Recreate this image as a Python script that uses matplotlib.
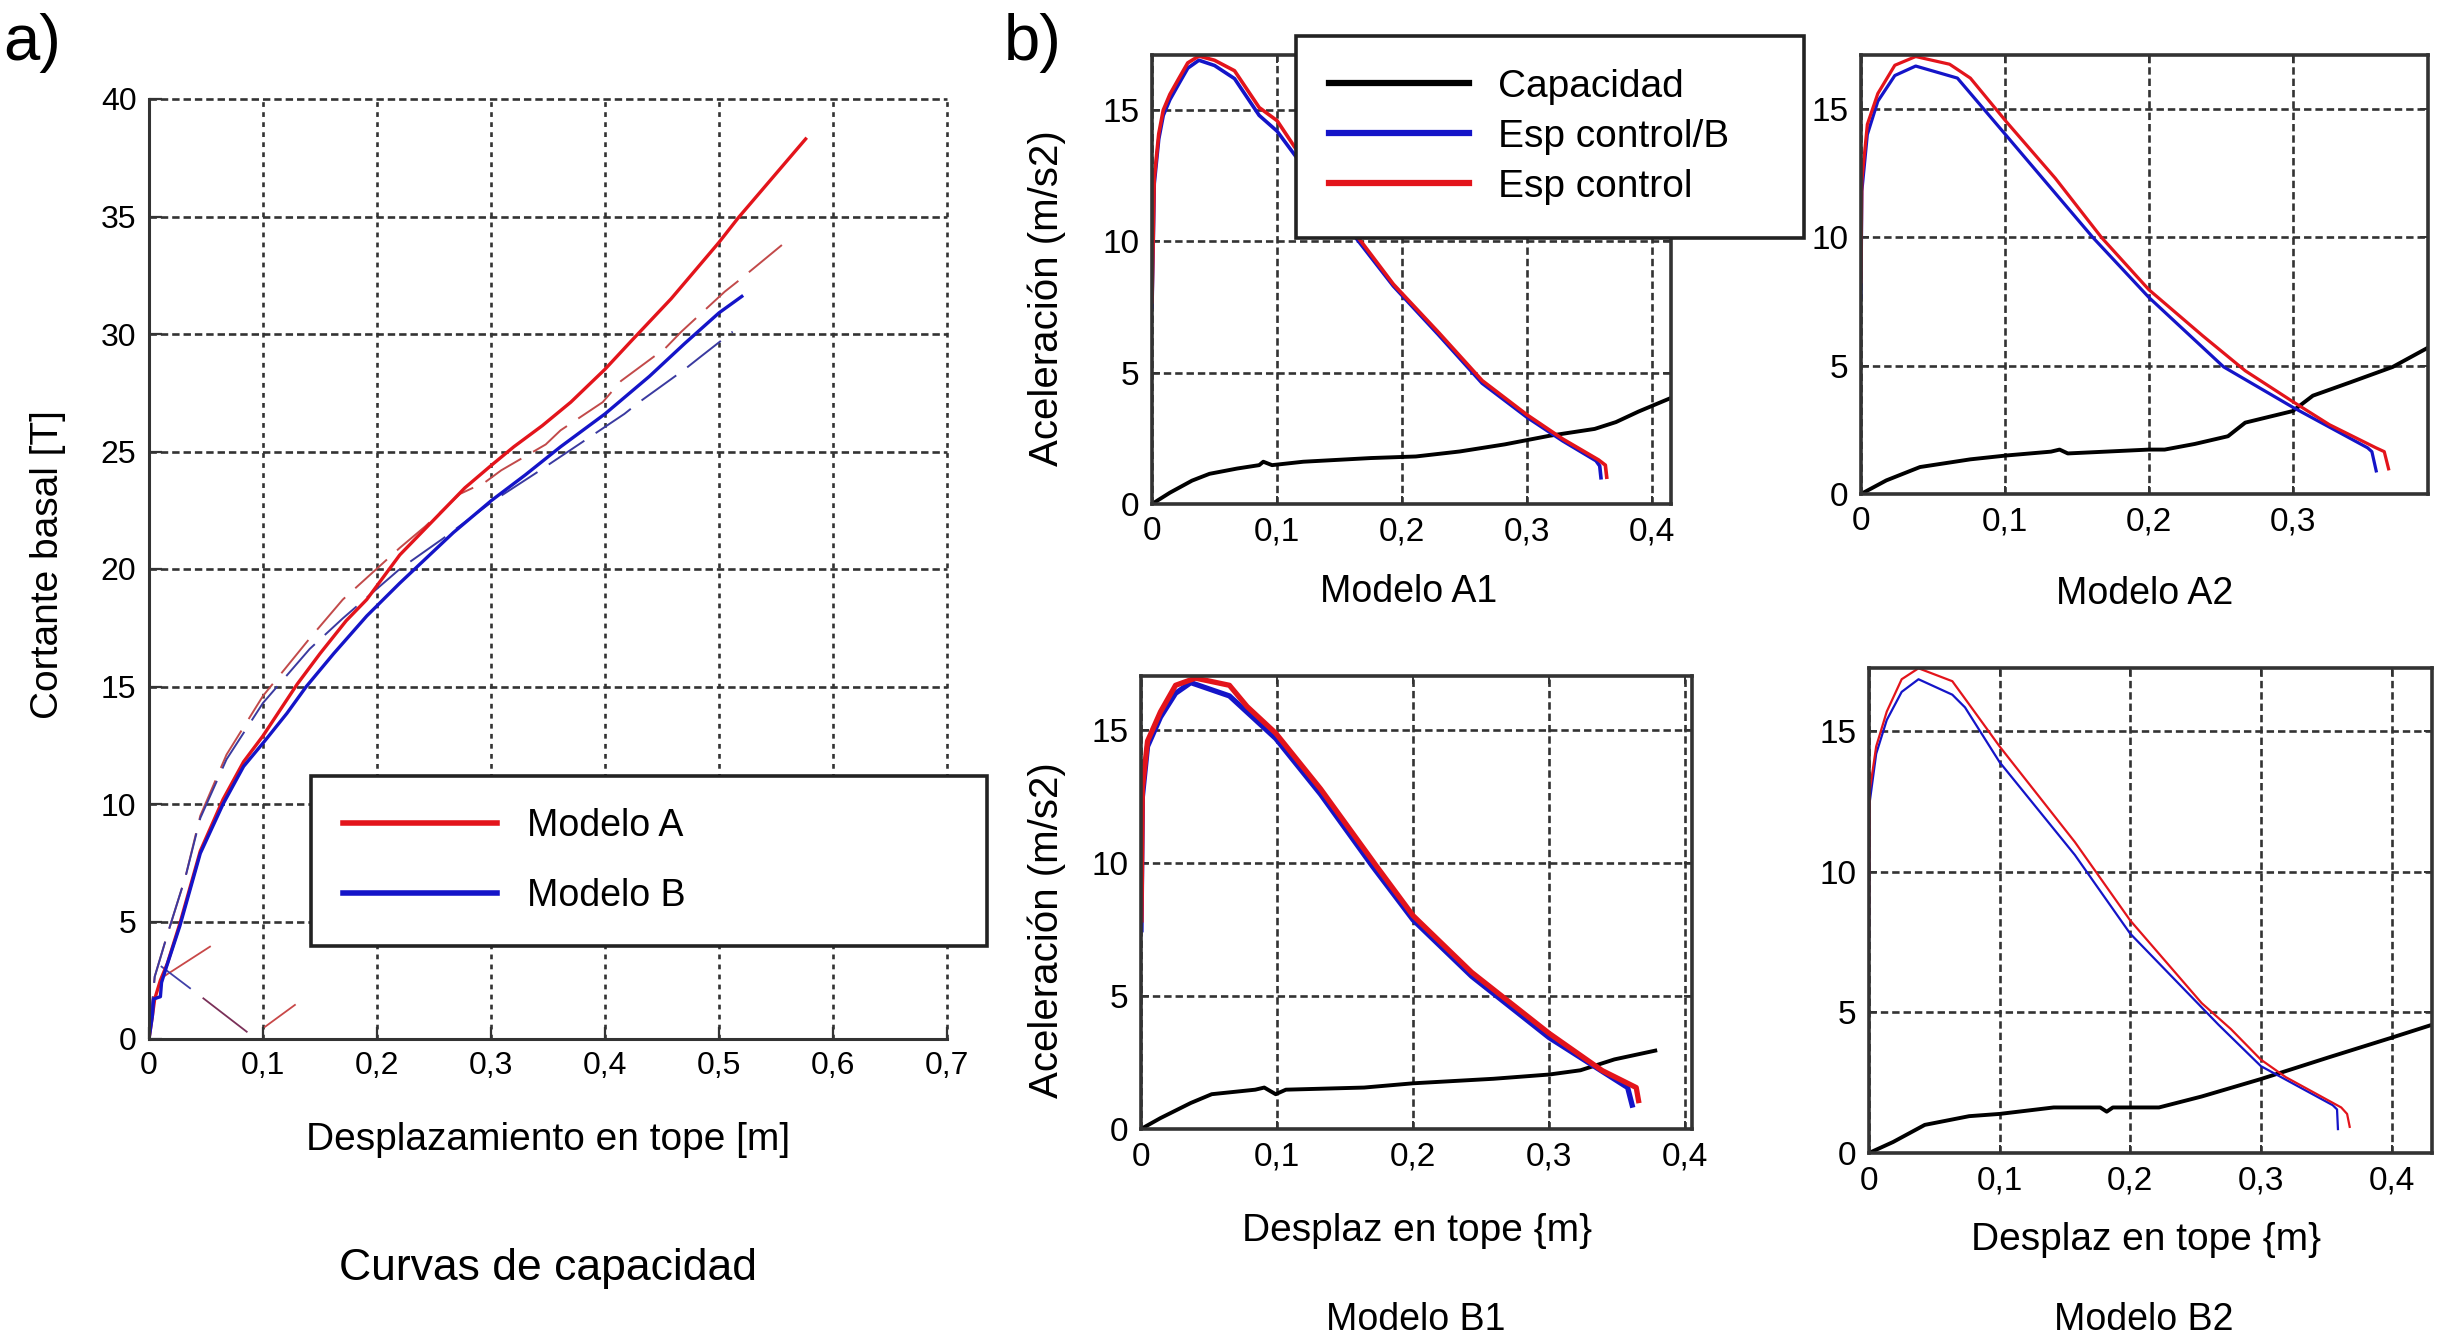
import numpy as np
import matplotlib
matplotlib.use('Agg')
import matplotlib.pyplot as plt
from matplotlib.lines import Line2D
from matplotlib.ticker import FuncFormatter, MultipleLocator

plt.rcParams['font.family'] = ['Liberation Sans', 'DejaVu Sans']
plt.rcParams['axes.linewidth'] = 2.2
plt.rcParams['axes.edgecolor'] = '#333333'

W, H = 2442, 1340

# ---------------- panel a) capacity curves ----------------
modA_x = [0, 0.003, 0.005, 0.01, 0.016, 0.027, 0.045, 0.065, 0.083, 0.1, 0.13, 0.15,
          0.173, 0.191, 0.22, 0.252, 0.277, 0.3, 0.32, 0.345, 0.37, 0.4, 0.423, 0.458,
          0.5, 0.517, 0.576]
modA_y = [0, 1.0, 1.7, 2.5, 3.2, 4.9, 8.0, 10.2, 11.8, 12.9, 15.1, 16.4,
          17.8, 18.7, 20.6, 22.2, 23.45, 24.4, 25.2, 26.1, 27.1, 28.5, 29.7, 31.5,
          33.9, 34.95, 38.3]
modB_x = [0, 0.003, 0.004, 0.01, 0.011, 0.0155, 0.027, 0.045, 0.065, 0.083, 0.101, 0.121,
          0.138, 0.162, 0.191, 0.22, 0.267, 0.3, 0.33, 0.361, 0.4, 0.439, 0.47, 0.5, 0.52]
modB_y = [0, 1.0, 1.7, 1.8, 2.4, 3.1, 4.8, 7.9, 10.0, 11.6, 12.65, 13.86,
          15.0, 16.4, 18.0, 19.4, 21.55, 22.9, 24.0, 25.2, 26.6, 28.2, 29.6, 30.9, 31.6]
# dashed companions
modA2_x = [0, 0.005, 0.0155, 0.032, 0.045, 0.068, 0.1, 0.141, 0.17, 0.22, 0.242, 0.273,
           0.295, 0.309, 0.348, 0.361, 0.398, 0.414, 0.453, 0.467, 0.505, 0.518, 0.558]
modA2_y = [0, 2.65, 4.35, 6.9, 9.5, 12.1, 14.6, 17.05, 18.7, 20.9, 21.8, 23.2,
           23.7, 24.2, 25.3, 25.9, 27.1, 28.0, 29.4, 30.1, 31.8, 32.3, 33.9]
modB2_x = [0, 0.005, 0.0155, 0.032, 0.045, 0.068, 0.1, 0.141, 0.17, 0.22, 0.258, 0.302,
           0.34, 0.377, 0.417, 0.43, 0.47, 0.483, 0.512]
modB2_y = [0, 2.65, 4.35, 6.9, 9.4, 11.9, 14.3, 16.6, 17.9, 20.0, 21.3, 22.9,
           24.1, 25.3, 26.6, 27.1, 28.5, 29.0, 30.1]
# short stray segments near the origin
stray_red1 = ([0.0126, 0.0535], [2.65, 3.93])
stray_blue = ([0.011, 0.036], [3.08, 2.16])
stray_dark = ([0.0477, 0.0857], [1.73, 0.31])
stray_red2 = ([0.1018, 0.128], [0.52, 1.45])

# ---------------- panel b) spectra ----------------
A1_cap_x = [0, 0.0143, 0.032, 0.046, 0.068, 0.0857, 0.089, 0.096, 0.121, 0.175, 0.211,
            0.246, 0.282, 0.318, 0.354, 0.371, 0.389, 0.415]
A1_cap_y = [0, 0.43, 0.89, 1.15, 1.35, 1.48, 1.61, 1.48, 1.61, 1.75, 1.81,
            2.0, 2.27, 2.6, 2.86, 3.12, 3.52, 4.04]
A1_blue_x = [0, 0.001, 0.0018, 0.0054, 0.009, 0.0143, 0.0214, 0.0286, 0.0375, 0.05, 0.066,
             0.0857, 0.1, 0.114, 0.13, 0.162, 0.193, 0.229, 0.264, 0.3, 0.3286, 0.355,
             0.358, 0.359]
A1_blue_y = [7.5, 10.0, 12.2, 13.9, 14.8, 15.4, 16.0, 16.6, 16.9, 16.7, 16.2,
             14.8, 14.2, 13.3, 12.3, 10.2, 8.3, 6.45, 4.6, 3.3, 2.4, 1.65,
             1.45, 1.0]
A1_red_x = [0, 0.001, 0.0018, 0.0054, 0.009, 0.0143, 0.0214, 0.0286, 0.0375, 0.05, 0.066,
            0.0857, 0.1, 0.114, 0.13, 0.164, 0.193, 0.229, 0.264, 0.3, 0.3286, 0.357,
            0.3625, 0.3636]
A1_red_y = [7.7, 10.2, 12.4, 14.1, 15.0, 15.6, 16.2, 16.8, 17.06, 16.9, 16.5,
            15.1, 14.6, 13.6, 12.6, 10.2, 8.37, 6.54, 4.7, 3.39, 2.47, 1.68,
            1.48, 1.02]

A2_cap_x = [0, 0.0176, 0.041, 0.076, 0.101, 0.132, 0.138, 0.1437, 0.2, 0.211, 0.232,
            0.255, 0.267, 0.3, 0.314, 0.34, 0.3695, 0.394]
A2_cap_y = [0, 0.53, 1.05, 1.35, 1.5, 1.65, 1.73, 1.58, 1.73, 1.73, 1.95,
            2.25, 2.78, 3.23, 3.83, 4.35, 4.95, 5.7]
A2_blue_x = [0, 0.0006, 0.0044, 0.0117, 0.0235, 0.038, 0.067, 0.101, 0.161, 0.2, 0.252,
             0.3, 0.352, 0.355, 0.358]
A2_blue_y = [7.66, 11.8, 14.0, 15.3, 16.3, 16.67, 16.2, 13.96, 10.0, 7.66, 4.95,
             3.38, 1.8, 1.65, 0.9]
A2_red_x = [0, 0.0006, 0.0044, 0.0117, 0.0235, 0.038, 0.0616, 0.076, 0.101, 0.135, 0.167,
            0.2, 0.2375, 0.267, 0.3, 0.3255, 0.3578, 0.3636, 0.3666]
A2_red_y = [8.26, 12.2, 14.4, 15.6, 16.7, 17.04, 16.74, 16.2, 14.5, 12.3, 10.0,
            7.96, 6.16, 4.8, 3.6, 2.7, 1.8, 1.65, 0.98]

B1_cap_x = [0, 0.0143, 0.0366, 0.052, 0.084, 0.0906, 0.099, 0.1065, 0.164, 0.2, 0.259,
            0.3, 0.323, 0.348, 0.378]
B1_cap_y = [0, 0.41, 0.98, 1.31, 1.48, 1.56, 1.31, 1.48, 1.56, 1.72, 1.89,
            2.05, 2.21, 2.62, 2.95]
B1_blue_x = [0, 0.001, 0.0048, 0.0143, 0.0254, 0.0366, 0.065, 0.099, 0.132, 0.17, 0.2,
             0.243, 0.3, 0.3577, 0.361]
B1_blue_y = [7.5, 12.5, 14.4, 15.5, 16.4, 16.8, 16.3, 14.7, 12.6, 9.9, 7.87,
             5.75, 3.44, 1.56, 0.9]
B1_red_x = [0, 0.001, 0.0048, 0.0143, 0.0254, 0.04, 0.065, 0.078, 0.099, 0.132, 0.173,
            0.2, 0.243, 0.3, 0.339, 0.364, 0.3657]
B1_red_y = [7.87, 12.8, 14.6, 15.7, 16.7, 16.97, 16.7, 15.9, 14.9, 12.8, 9.9,
            8.03, 5.9, 3.6, 2.2, 1.56, 1.07]

B2_cap_x = [0, 0.0184, 0.0427, 0.0767, 0.1, 0.1414, 0.177, 0.182, 0.1867, 0.222, 0.2547,
            0.3, 0.3518, 0.4, 0.431]
B2_cap_y = [0, 0.39, 1.0, 1.31, 1.39, 1.62, 1.62, 1.47, 1.62, 1.62, 2.01,
            2.63, 3.4, 4.1, 4.56]
B2_blue_x = [0, 0.0006, 0.0055, 0.0136, 0.025, 0.0379, 0.0638, 0.0735, 0.1, 0.1576, 0.2,
             0.2676, 0.3, 0.355, 0.3583, 0.359]
B2_blue_y = [7.5, 12.5, 14.2, 15.4, 16.4, 16.85, 16.3, 15.85, 13.9, 10.6, 7.8,
             4.56, 3.09, 1.7, 1.55, 0.85]
B2_red_x = [0, 0.0006, 0.0055, 0.0136, 0.025, 0.0379, 0.0638, 0.0735, 0.1, 0.1576, 0.2,
            0.2547, 0.277, 0.3, 0.319, 0.3615, 0.366, 0.368]
B2_red_y = [7.65, 12.9, 14.46, 15.7, 16.85, 17.24, 16.78, 16.16, 14.46, 11.06, 8.27,
            5.33, 4.41, 3.32, 2.7, 1.62, 1.39, 0.93]

RED = '#e3141b'
BLUE = '#1414c8'
GRIDC = '#333333'


def px(x0, y0, x1, y1):
    # pixel box -> figure fraction rect
    return [x0 / W, 1 - y1 / H, (x1 - x0) / W, (y1 - y0) / H]


def comma(v, p):
    s = ('%g' % round(v, 3))
    return s.replace('.', ',')


fig = plt.figure(figsize=(W / 100, H / 100), dpi=100)

# ----- panel a
ax = fig.add_axes(px(149, 99, 947, 1039))
ax.plot(*stray_red1, '-', color='#c84848', lw=1.3)
ax.plot(*stray_blue, '-', color='#4040a8', lw=1.3)
ax.plot(*stray_dark, '-', color='#7a3058', lw=1.3)
ax.plot(*stray_red2, '-', color='#c84848', lw=1.3)
ax.plot(modA2_x, modA2_y, color='#c24a4a', lw=1.4, ls=(0, (22, 7)))
ax.plot(modB2_x, modB2_y, color='#3a3aa0', lw=1.4, ls=(0, (22, 7)))
ax.plot(modA_x, modA_y, color=RED, lw=2.4)
ax.plot(modB_x, modB_y, color=BLUE, lw=2.4)
ax.set_xlim(0, 0.7)
ax.set_ylim(0, 40)
ax.xaxis.set_major_locator(MultipleLocator(0.1))
ax.yaxis.set_major_locator(MultipleLocator(5))
ax.xaxis.set_major_formatter(FuncFormatter(comma))
ax.spines['top'].set_visible(False)
ax.spines['right'].set_visible(False)
ax.grid(True, axis='y', color=GRIDC, lw=1.9, ls=(0, (2.8, 1.5)))
ax.grid(True, axis='x', color=GRIDC, lw=1.9, ls=(0, (1.8, 2.0)))
for gl in ax.get_xgridlines() + ax.get_ygridlines():
    gl.set_clip_on(False)
ax.tick_params(direction='in', length=9, width=1.6, colors='#333333',
               labelcolor='black', labelsize=23, pad=9)

leg_a = fig.legend([Line2D([], [], color=RED, lw=4), Line2D([], [], color=BLUE, lw=4)],
                   ['Modelo A', 'Modelo B'], loc='upper left',
                   bbox_to_anchor=px(311, 776, 987, 944), mode='expand', borderaxespad=0,
                   fontsize=27, fancybox=False, framealpha=1, edgecolor='#222222',
                   borderpad=0.85, labelspacing=0.92, handlelength=4.1, handletextpad=0.8)
leg_a.get_frame().set_linewidth(2.6)

fig.text(48 / W, 1 - 565 / H, 'Cortante basal [T]', rotation=90, ha='center', va='center',
         fontsize=28)
fig.text(548 / W, 1 - 1150 / H, 'Desplazamiento en tope [m]', ha='center', va='baseline',
         fontsize=28)
fig.text(548 / W, 1 - 1280 / H, 'Curvas de capacidad', ha='center', va='baseline', fontsize=32)
fig.text(3 / W, 1 - 60 / H, 'a)', ha='left', va='baseline', fontsize=47)
fig.text(1004 / W, 1 - 60 / H, 'b)', ha='left', va='baseline', fontsize=47)

# ----- panel b
panels = [
    (px(1152, 55, 1671, 504), (0, 0.415), (0, 17.1), A1_cap_x, A1_cap_y, A1_blue_x, A1_blue_y,
     A1_red_x, A1_red_y, 2.6),
    (px(1861, 55, 2428, 494), (0, 0.394), (0, 17.1), A2_cap_x, A2_cap_y, A2_blue_x, A2_blue_y,
     A2_red_x, A2_red_y, 2.3),
    (px(1141, 676, 1692, 1129), (0, 0.405), (0, 17.05), B1_cap_x, B1_cap_y, B1_blue_x, B1_blue_y,
     B1_red_x, B1_red_y, 3.8),
    (px(1869, 668, 2432, 1153), (0, 0.431), (0, 17.25), B2_cap_x, B2_cap_y, B2_blue_x, B2_blue_y,
     B2_red_x, B2_red_y, 1.6),
]
for rect, xl, yl, cx, cy, bx, by, rx, ry, lw in panels:
    bx_ = fig.add_axes(rect)
    bx_.plot(cx, cy, color='black', lw=2.8)
    bx_.plot(bx, by, color=BLUE, lw=lw)
    bx_.plot(rx, ry, color=RED, lw=lw)
    bx_.set_xlim(*xl)
    bx_.set_ylim(*yl)
    bx_.xaxis.set_major_locator(MultipleLocator(0.1))
    bx_.yaxis.set_major_locator(MultipleLocator(5))
    bx_.xaxis.set_major_formatter(FuncFormatter(comma))
    bx_.grid(True, color=GRIDC, lw=1.9, ls=(0, (2.8, 1.5)))
    bx_.tick_params(direction='in', length=6, width=1.4, colors='#333333', top=True,
                    right=True, labelcolor='black', labelsize=24, pad=9)
    for s in bx_.spines.values():
        s.set_linewidth(2.6)

fig.text(1047 / W, 1 - 298 / H, 'Aceleración (m/s2)', rotation=90, ha='center', va='center',
         fontsize=29)
fig.text(1047 / W, 1 - 930 / H, 'Aceleración (m/s2)', rotation=90, ha='center', va='center',
         fontsize=29)
fig.text(1409 / W, 1 - 602 / H, 'Modelo A1', ha='center', va='baseline', fontsize=27)
fig.text(2145 / W, 1 - 604 / H, 'Modelo A2', ha='center', va='baseline', fontsize=27)
fig.text(1417 / W, 1 - 1241 / H, 'Desplaz en tope {m}', ha='center', va='baseline', fontsize=28)
fig.text(2146 / W, 1 - 1250 / H, 'Desplaz en tope {m}', ha='center', va='baseline', fontsize=28)
fig.text(1416 / W, 1 - 1330 / H, 'Modelo B1', ha='center', va='baseline', fontsize=27)
fig.text(2144 / W, 1 - 1330 / H, 'Modelo B2', ha='center', va='baseline', fontsize=27)

leg_b = fig.legend([Line2D([], [], color='black', lw=4.5), Line2D([], [], color=BLUE, lw=4.5),
                    Line2D([], [], color=RED, lw=4.5)],
                   ['Capacidad', 'Esp control/B', 'Esp control'], loc='upper left',
                   bbox_to_anchor=px(1296, 36, 1804, 237), mode='expand', borderaxespad=0,
                   fontsize=28, fancybox=False, framealpha=1, edgecolor='#222222',
                   borderpad=0.85, labelspacing=0.36, handlelength=3.6, handletextpad=0.75)
leg_b.get_frame().set_linewidth(2.6)

fig.savefig('out.png', dpi=100)
